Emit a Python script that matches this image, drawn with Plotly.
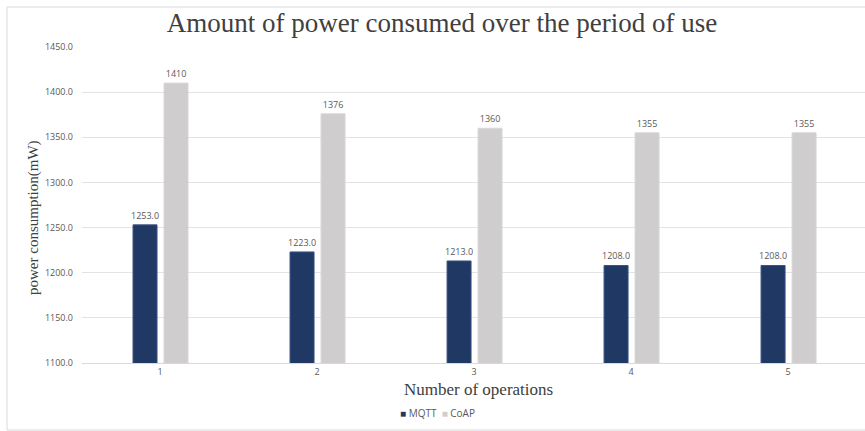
import plotly.graph_objects as go

categories = [1, 2, 3, 4, 5]
mqtt = [1253.0, 1223.0, 1213.0, 1208.0, 1208.0]
coap = [1410, 1376, 1360, 1355, 1355]
y_ticks = [1100, 1150, 1200, 1250, 1300, 1350, 1400, 1450]

W, H = 865, 431
L, R, T, B = 82, 0, 47, 68
pw, ph = W - L - R, H - T - B
unit = 157.0  # px per category

def px_x(x):
    return (x - L) / pw

def px_y(y):
    return (H - B - y) / ph

bw = 24 / unit
fig = go.Figure()
fig.add_trace(go.Bar(
    x=categories, y=mqtt, name="MQTT",
    width=bw, offset=-27 / unit,
    marker=dict(color="#203864", line=dict(color="#3a5283", width=1)),
    text=[f"{v:.1f}" for v in mqtt], textposition="outside",
    constraintext="none",
    textfont=dict(size=9, color="#595959", family="Open Sans"),
    cliponaxis=False, showlegend=False,
))
fig.add_trace(go.Bar(
    x=categories, y=coap, name="CoAP",
    width=bw, offset=4 / unit,
    marker=dict(color="#CFCDCD", line=dict(color="#d9d7d7", width=1)),
    text=[f"{v}" for v in coap], textposition="outside",
    constraintext="none",
    textfont=dict(size=9, color="#595959", family="Open Sans"),
    cliponaxis=False, showlegend=False,
))

legend_text = ("<span style='color:#203864'>■</span> MQTT  "
               "<span style='color:#CFCDCD'>■</span> CoAP")

fig.update_layout(
    width=W, height=H,
    margin=dict(l=L, r=R, t=T, b=B),
    paper_bgcolor="white", plot_bgcolor="white",
    barmode="overlay",
    title=dict(text="Amount of power consumed over the period of use",
               x=442 / W, xanchor="center", y=1 - 23 / H, yanchor="middle",
               yref="container", xref="container",
               font=dict(family="Liberation Serif", size=27, color="#404040")),
    xaxis=dict(range=[0.503, 5.49], tickvals=categories,
               ticktext=[str(c) for c in categories],
               showgrid=False, zeroline=False, showline=True,
               linecolor="#d9d9d9", ticks="",
               tickfont=dict(family="Open Sans", size=9, color="#595959")),
    yaxis=dict(range=[1100, 1450], tickvals=y_ticks,
               ticktext=[f"{v:.1f}" for v in y_ticks],
               showgrid=True, gridcolor="#e3e3e3", zeroline=False,
               showline=False, ticks="", ticklabelstandoff=8,
               tickfont=dict(family="Open Sans", size=9, color="#595959")),
    annotations=[
        dict(text="power consumption(mW)", xref="paper", yref="paper",
             x=px_x(33), y=px_y(218), textangle=-90, showarrow=False,
             xanchor="center", yanchor="middle",
             font=dict(family="Liberation Serif", size=15, color="#404040")),
        dict(text="Number of operations", xref="paper", yref="paper",
             x=px_x(478), y=px_y(389), showarrow=False,
             xanchor="center", yanchor="middle",
             font=dict(family="Liberation Serif", size=17, color="#404040")),
        dict(text=legend_text, xref="paper", yref="paper",
             x=px_x(437), y=px_y(413), showarrow=False,
             xanchor="center", yanchor="middle",
             font=dict(family="Open Sans", size=10, color="#595959")),
    ],
    shapes=[
        dict(type="rect", xref="paper", yref="paper",
             x0=px_x(7), x1=px_x(880), y0=px_y(430), y1=px_y(7),
             line=dict(color="#d9d9d9", width=1), layer="below"),
    ],
)

fig.write_html("out.html")
